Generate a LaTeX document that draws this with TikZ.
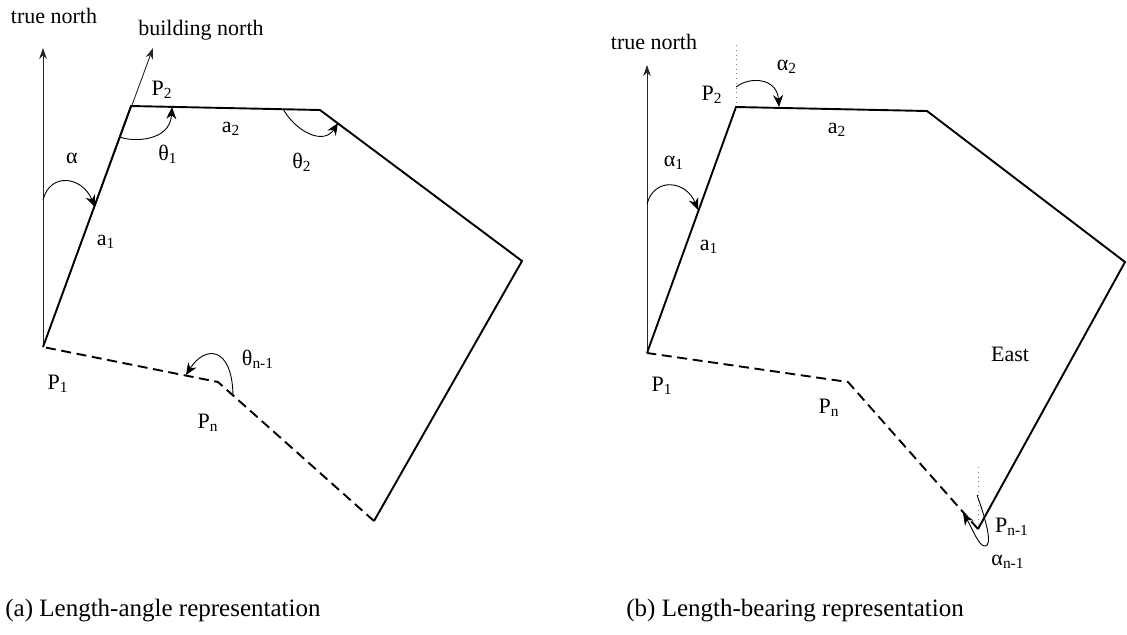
\documentclass[tikz,border=0pt]{standalone}
\usepackage{fontspec}
\setmainfont{Liberation Serif}
\usetikzlibrary{arrows.meta}
\begin{document}
\begin{tikzpicture}[x=0.5pt,y=-0.5pt,
  edge/.style={line width=0.95pt, line join=miter},
  dashededge/.style={line width=0.95pt, dash pattern=on 5pt off 2.8pt},
  northarrow/.style={line width=0.45pt, black!85, -{Stealth[length=5.5pt,width=3.8pt]}},
  anglearc/.style={line width=0.45pt, -{Stealth[length=6pt,width=5pt]}},
  guide/.style={line width=0.35pt, gray, dotted},
  lbl/.style={font=\fontsize{11}{13}\selectfont, inner sep=0pt, anchor=base},
  captext/.style={font=\fontsize{12.5}{15}\selectfont, inner sep=0pt, anchor=base west}]
\useasboundingbox (0,0) rectangle (1127,634);

% ---------------- (a) length-angle ----------------
\coordinate (A1) at (43,347);
\coordinate (A2) at (131,106);
\coordinate (A3) at (320,110);
\coordinate (A4) at (522,261);
\coordinate (A5) at (374,521);
\coordinate (An) at (218,382);
\coordinate (ATN) at (43,48);
\coordinate (ABN) at (153,48);

\draw[northarrow] (A1) -- (ATN);
\draw[northarrow] (A1) -- (ABN);
\draw[edge] (A1) -- (A2) -- (A3) -- (A4) -- (A5);
\draw[dashededge] (A5) -- (An) -- (A1);

\coordinate (alS) at (43,200);  \coordinate (alE) at (95,207);
\draw[anglearc] (alS) .. controls (50,172) and (82,176) .. (alE);
\coordinate (t1S) at (120,137); \coordinate (t1E) at (172,107);
\draw[anglearc] (t1S) .. controls (132,142) and (170,142) .. (t1E);
\coordinate (t2S) at (283,109); \coordinate (t2E) at (338,123);
\draw[anglearc] (t2S) .. controls (297,133) and (324,145) .. (t2E);
\coordinate (tnS) at (233,395); \coordinate (tnE) at (186,375);
\draw[anglearc] (tnS) .. controls (232,346) and (205,345) .. (tnE);

\node[lbl] (tnA) at (54,23) {true north};
\node[lbl] (bn) at (201,35) {building north};
\node[lbl] (P2a) at (162,95) {P\textsubscript{2}};
\node[lbl] (alpha) at (72,163) {α};
\node[lbl] (a1a) at (106,245) {a\textsubscript{1}};
\node[lbl] (th1) at (168,160) {θ\textsubscript{1}};
\node[lbl] (a2a) at (231,132) {a\textsubscript{2}};
\node[lbl] (th2) at (302,168) {θ\textsubscript{2}};
\node[lbl] (thn) at (258,365) {θ\textsubscript{n-1}};
\node[lbl] (Pna) at (208,428) {P\textsubscript{n}};
\node[lbl] (P1a) at (58,389) {P\textsubscript{1}};

% ---------------- (b) length-bearing ----------------
\coordinate (B1) at (647,353);
\coordinate (B2) at (736,107);
\coordinate (B3) at (927,111);
\coordinate (B4) at (1125,262);
\coordinate (B5) at (978,529);
\coordinate (Bn) at (848,382);
\coordinate (BTN) at (647,65);
\coordinate (BG2) at (736,43);
\coordinate (BG5) at (978,465);

\draw[northarrow] (B1) -- (BTN);
\draw[guide] (B2) -- (BG2);
\draw[guide] (B5) -- (BG5);
\draw[edge] (B1) -- (B2) -- (B3) -- (B4) -- (B5);
\draw[dashededge] (B5) -- (Bn) -- (B1);

\coordinate (b1S) at (647,204); \coordinate (b1E) at (698,210);
\draw[anglearc] (b1S) .. controls (654,177) and (686,180) .. (b1E);
\coordinate (b2S) at (736,87);  \coordinate (b2E) at (779,107);
\draw[anglearc] (b2S) .. controls (750,76) and (777,78) .. (b2E);
\coordinate (bnS) at (977,495); \coordinate (bnM) at (985,546); \coordinate (bnE) at (963,513);
\draw[anglearc] (bnS) .. controls (986,520) and (993,546) .. (bnM)
                      .. controls (979,547) and (971,526) .. (bnE);

\node[lbl] (tnB) at (654,49) {true north};
\node[lbl] (P2b) at (712,100) {P\textsubscript{2}};
\node[lbl] (al2) at (787,70) {α\textsubscript{2}};
\node[lbl] (a2b) at (837,133) {a\textsubscript{2}};
\node[lbl] (al1) at (674,166) {α\textsubscript{1}};
\node[lbl] (a1b) at (709,250) {a\textsubscript{1}};
\node[lbl] (east) at (1010,361) {East};
\node[lbl] (P1b) at (662,391) {P\textsubscript{1}};
\node[lbl] (Pnb) at (829,413) {P\textsubscript{n}};
\node[lbl] (Pn1) at (1012,532) {P\textsubscript{n-1}};
\node[lbl] (aln) at (1008,565) {α\textsubscript{n-1}};

% captions
\node[captext] (capa) at (5,616) {(a) Length-angle representation};
\node[captext] (capb) at (626,616) {(b) Length-bearing representation};
\end{tikzpicture}
\end{document}
